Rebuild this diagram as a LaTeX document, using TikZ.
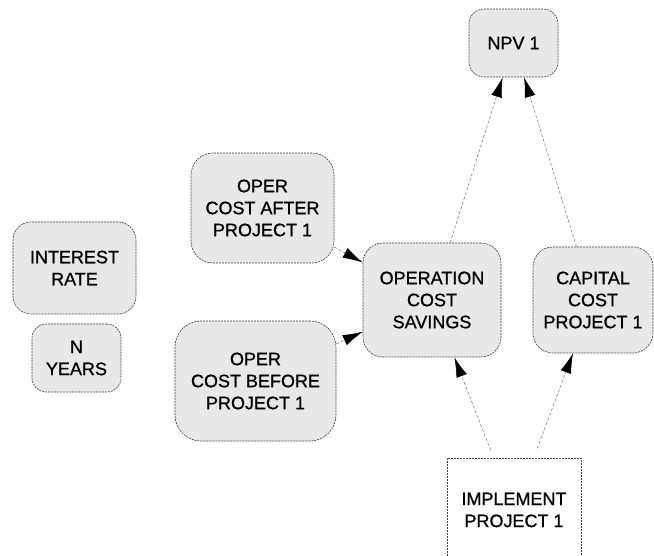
\documentclass[tikz,border=0pt]{standalone}
\usepackage{fontspec}
\setmainfont{Liberation Sans}
\usetikzlibrary{arrows.meta}
\tikzset{
  boxfont/.style={font=\fontsize{18}{22}\selectfont\addfontfeature{FakeBold=0.9}},
  varbox/.style={draw=black!75, line width=0.6pt, dash pattern=on 2pt off 1pt,
    fill=black!9, rounded corners=18pt, align=center, inner sep=0pt,
    boxfont, text=black},
  decbox/.style={draw=black!75, line width=0.6pt, dash pattern=on 2pt off 1pt,
    fill=white, align=center, inner sep=0pt, boxfont, text=black},
  link/.style={draw=black!55, line width=0.5pt, dash pattern=on 3pt off 2pt,
    -{Latex[length=20pt,width=11pt,black]}},
}
\begin{document}
\begin{tikzpicture}[x=1pt,y=-1pt]
\useasboundingbox (0,0) rectangle (654,556);
\clip (0,0) rectangle (654,556);
\node[varbox, minimum width=123pt, minimum height=92pt] (ir) at (74.5,268) {INTEREST\\RATE};
\node[varbox, minimum width=89pt, minimum height=68pt, rounded corners=14pt] (ny) at (76.5,358) {N\\YEARS};
\node[varbox, minimum width=143pt, minimum height=110pt, rounded corners=22pt] (oca) at (262.5,208) {OPER\\COST AFTER\\PROJECT 1};
\node[varbox, minimum width=161pt, minimum height=120pt, rounded corners=26pt] (ocb) at (255.5,381) {OPER\\COST BEFORE\\PROJECT 1};
\node[varbox, minimum width=138pt, minimum height=114pt, rounded corners=20pt] (ocs) at (432,300) {OPERATION\\COST\\SAVINGS};
\node[varbox, minimum width=120pt, minimum height=106pt, rounded corners=20pt] (cap) at (593,300) {CAPITAL\\COST\\PROJECT 1};
\node[varbox, minimum width=89pt, minimum height=68pt, rounded corners=15pt] (npv) at (513.5,43) {NPV 1};
\node[decbox, minimum width=134pt, minimum height=104pt] (imp) at (514,510) {IMPLEMENT\\PROJECT 1};
\draw[link] (oca) -- (ocs);
\draw[link] (ocb) -- (ocs);
\draw[link] (ocs) -- (npv);
\draw[link] (cap) -- (npv);
\draw[link, shorten <=8pt] (imp) -- (ocs);
\draw[link, shorten <=10pt] (imp) -- (cap);
\end{tikzpicture}
\end{document}
